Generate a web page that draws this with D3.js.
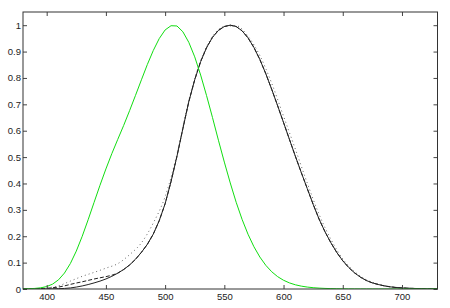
<!DOCTYPE html>
<html><head><meta charset="utf-8">
<script src="https://cdn.jsdelivr.net/npm/d3@7"></script>
<style>body{margin:0;background:#fff}svg{display:block}</style>
</head><body>
<script>
// wavelength grid (5 nm) for photopic / scotopic / Judd-Vos
const wl5 = d3.range(380, 731, 5);
// scotopic V'(λ)  (green)
const scotopic = [0.000589,0.001108,0.002209,0.00453,0.00929,0.01852,0.03484,0.0604,0.0966,0.1436,0.1998,0.2625,0.3281,0.3931,0.455,0.513,0.567,0.62,0.676,0.734,0.793,0.851,0.904,0.949,0.982,0.998,0.997,0.975,0.935,0.88,0.811,0.733,0.65,0.564,0.481,0.402,0.3288,0.2639,0.2076,0.1602,0.1212,0.0899,0.0655,0.0469,0.03315,0.02312,0.01593,0.01088,0.00737,0.00497,0.003335,0.002235,0.001497,0.001005,0.000677,0.000459,0.000313,0.000215,0.000148,0.000103,0.0000715,0.0000501,0.0000353,0.000025,0.0000178,0.0000127,0.0000091,0.0000066,0.0000048,0.0000035,0.0000025];
// photopic V(λ)  (solid black)
const photopic = [0.000039,0.000064,0.00012,0.000217,0.000396,0.00064,0.00121,0.00218,0.004,0.0073,0.0116,0.01684,0.023,0.0298,0.038,0.048,0.06,0.0739,0.09098,0.1126,0.13902,0.1693,0.20802,0.2586,0.323,0.4073,0.503,0.6082,0.71,0.7932,0.862,0.91485,0.954,0.9803,0.99495,1.0,0.995,0.9786,0.952,0.9154,0.87,0.8163,0.757,0.6949,0.631,0.5668,0.503,0.4412,0.381,0.321,0.265,0.217,0.175,0.1382,0.107,0.0816,0.061,0.04458,0.032,0.0232,0.017,0.01192,0.00821,0.005723,0.004102,0.002929,0.002091,0.001484,0.001047,0.00074,0.00052];
// Judd-Vos corrected (dashed black)
const juddVos = [0.0002,0.0004,0.0008,0.0015,0.0028,0.0047,0.0074,0.0118,0.0175,0.0227,0.0273,0.0326,0.0379,0.0424,0.0468,0.0521,0.06,0.0739,0.09098,0.1126,0.13902,0.1693,0.20802,0.2586,0.323,0.4073,0.503,0.6082,0.71,0.7932,0.862,0.91485,0.954,0.9803,0.99495,1.0,0.995,0.9786,0.952,0.9154,0.87,0.8163,0.757,0.6949,0.631,0.5668,0.503,0.4412,0.381,0.321,0.265,0.217,0.175,0.1382,0.107,0.0816,0.061,0.04458,0.032,0.0232,0.017,0.01192,0.00821,0.005723,0.004102,0.002929,0.002091,0.001484,0.001047,0.00074,0.00052];
// dotted black (10 nm)
const wl10 = d3.range(380, 731, 10);
const dottedV = [0.0003,0.001,0.004,0.012,0.03,0.048,0.063,0.079,0.096,0.13,0.175,0.25,0.35,0.51,0.715,0.865,0.957,0.995,0.998,0.958,0.885,0.78,0.655,0.53,0.402,0.283,0.188,0.114,0.066,0.035,0.018,0.009,0.0045,0.0022,0.0011,0.0005];

const xTicks = [400,450,500,550,600,650,700];
const yTicks = [0,0.1,0.2,0.3,0.4,0.5,0.6,0.7,0.8,0.9,1];
const yTickLabels = ["0","0.1","0.2","0.3","0.4","0.5","0.6","0.7","0.8","0.9","1"];

const W = 450, H = 308;
const m = {left: 23, top: 12, right: 12.5, bottom: 19};
const iw = W - m.left - m.right, ih = H - m.top - m.bottom;

const svg = d3.select("body").append("svg").attr("width", W).attr("height", H);
const g = svg.append("g").attr("transform", `translate(${m.left},${m.top})`);

const x = d3.scaleLinear().domain([380, 730]).range([0, iw]);
const y = d3.scaleLinear().domain([0, 1.05]).range([ih, 0]);

svg.append("defs").append("clipPath").attr("id", "clip")
  .append("rect").attr("width", iw).attr("height", ih);

const plot = g.append("g").attr("clip-path", "url(#clip)");
const line = d3.line().x(d => x(d[0])).y(d => y(d[1]));
const lineS = d3.line().x(d => x(d[0])).y(d => y(d[1])).curve(d3.curveMonotoneX);

plot.append("path").datum(wl5.map((w,i)=>[w, juddVos[i]]))
  .attr("d", line).attr("fill","none").attr("stroke","#222").attr("stroke-width",1)
  .attr("stroke-dasharray","4,2");
plot.append("path").datum(wl10.map((w,i)=>[w, dottedV[i]]))
  .attr("d", lineS).attr("fill","none").attr("stroke","#666").attr("stroke-width",1)
  .attr("stroke-dasharray","1,3");
plot.append("path").datum(wl5.map((w,i)=>[w, photopic[i]]))
  .attr("d", line).attr("fill","none").attr("stroke","#222").attr("stroke-width",1);
plot.append("path").datum(wl5.map((w,i)=>[w, scotopic[i]]))
  .attr("d", line).attr("fill","none").attr("stroke","#11dd11").attr("stroke-width",1);

const font = "Liberation Sans, Arial, sans-serif";
function style(sel, labels) {
  sel.select(".domain").remove();
  sel.selectAll(".tick line").attr("stroke", "#444");
  sel.selectAll(".tick text").attr("fill", "#222").style("font-family", font).style("font-size", "9.5px");
  if (!labels) sel.selectAll(".tick text").remove();
}
g.append("g").attr("transform", `translate(0,${ih})`)
  .call(d3.axisBottom(x).tickValues(xTicks).tickFormat(d3.format("d")).tickSize(-4).tickPadding(4))
  .call(s => style(s, true));
g.append("g")
  .call(d3.axisTop(x).tickValues(xTicks).tickSize(-4))
  .call(s => style(s, false));
g.append("g")
  .call(d3.axisLeft(y).tickValues(yTicks).tickFormat((d,i)=>yTickLabels[i]).tickSize(-4).tickPadding(2))
  .call(s => style(s, true));
g.append("g").attr("transform", `translate(${iw},0)`)
  .call(d3.axisRight(y).tickValues(yTicks).tickSize(-4))
  .call(s => style(s, false));

g.append("rect").attr("x",0).attr("y",0).attr("width",iw).attr("height",ih)
  .attr("fill","none").attr("stroke","#333").attr("stroke-width",1);
</script>
</body></html>
